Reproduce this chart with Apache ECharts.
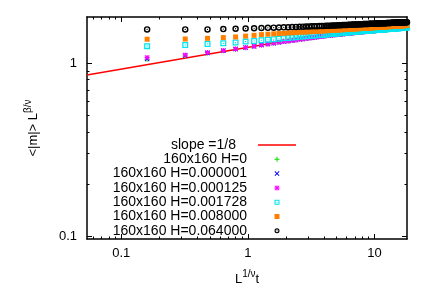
<!DOCTYPE html>
<html><head><meta charset="utf-8">
<script src="https://cdn.jsdelivr.net/npm/echarts@6/dist/echarts.min.js"></script>
<style>html,body{margin:0;padding:0;background:#fff}#c{width:428px;height:300px}</style>
</head><body><div id="c"></div>
<script>
const xs = [0.16,0.32,0.48,0.64,0.8,0.96,1.12,1.28,1.44,1.6,
1.76,1.92,2.08,2.24,2.4,2.56,2.72,2.88,3.04,3.2,
3.36,3.52,3.68,3.84,4,4.16,4.32,4.48,4.64,4.8,
4.96,5.12,5.28,5.44,5.6,5.76,5.92,6.08,6.24,6.4,
6.56,6.72,6.88,7.04,7.2,7.36,7.52,7.68,7.84,8,
8.16,8.32,8.48,8.64,8.8,8.96,9.12,9.28,9.44,9.6,
9.76,9.92,10.08,10.24,10.4,10.56,10.72,10.88,11.04,11.2,
11.36,11.52,11.68,11.84,12,12.16,12.32,12.48,12.64,12.8,
12.96,13.12,13.28,13.44,13.6,13.76,13.92,14.08,14.24,14.4,
14.56,14.72,14.88,15.04,15.2,15.36,15.52,15.68,15.84,16,
16.16,16.32,16.48,16.64,16.8,16.96,17.12,17.28,17.44,17.6,
17.76,17.92,18.08];
const yH0 = [1.050,1.100,1.140,1.174,1.201,1.224,1.246,1.268,1.285,1.300,
1.314,1.327,1.338,1.349,1.358,1.368,1.376,1.384,1.392,1.399,
1.406,1.412,1.419,1.425,1.431,1.435,1.439,1.444,1.448,1.452,
1.455,1.459,1.463,1.466,1.470,1.473,1.476,1.479,1.482,1.485,
1.488,1.491,1.493,1.496,1.499,1.501,1.504,1.506,1.508,1.511,
1.513,1.515,1.517,1.519,1.520,1.522,1.524,1.526,1.528,1.530,
1.531,1.533,1.535,1.536,1.538,1.540,1.541,1.543,1.544,1.545,
1.547,1.548,1.550,1.551,1.553,1.554,1.555,1.557,1.558,1.559,
1.560,1.562,1.563,1.564,1.565,1.567,1.568,1.569,1.570,1.571,
1.573,1.574,1.575,1.576,1.577,1.578,1.579,1.580,1.581,1.582,
1.583,1.584,1.585,1.586,1.587,1.588,1.589,1.590,1.591,1.592,
1.593,1.594,1.595];
const yH000001 = [1.055,1.103,1.142,1.175,1.202,1.225,1.246,1.268,1.285,1.300,
1.314,1.327,1.338,1.349,1.358,1.368,1.376,1.384,1.392,1.399,
1.406,1.412,1.419,1.425,1.431,1.435,1.439,1.444,1.448,1.452,
1.455,1.459,1.463,1.466,1.470,1.473,1.476,1.479,1.482,1.485,
1.488,1.491,1.493,1.496,1.499,1.501,1.504,1.506,1.508,1.511,
1.513,1.515,1.517,1.519,1.520,1.522,1.524,1.526,1.528,1.530,
1.531,1.533,1.535,1.536,1.538,1.540,1.541,1.543,1.544,1.545,
1.547,1.548,1.550,1.551,1.553,1.554,1.555,1.557,1.558,1.559,
1.560,1.562,1.563,1.564,1.565,1.567,1.568,1.569,1.570,1.571,
1.573,1.574,1.575,1.576,1.577,1.578,1.579,1.580,1.581,1.582,
1.583,1.584,1.585,1.586,1.587,1.588,1.589,1.590,1.591,1.592,
1.593,1.594,1.595];
const yH000125 = [1.074,1.111,1.147,1.178,1.204,1.226,1.247,1.269,1.286,1.301,
1.314,1.327,1.338,1.349,1.358,1.368,1.376,1.384,1.392,1.399,
1.406,1.412,1.419,1.425,1.431,1.435,1.439,1.444,1.448,1.452,
1.455,1.459,1.463,1.466,1.470,1.473,1.476,1.479,1.482,1.485,
1.488,1.491,1.493,1.496,1.499,1.501,1.504,1.506,1.508,1.511,
1.513,1.515,1.517,1.519,1.520,1.522,1.524,1.526,1.528,1.530,
1.531,1.533,1.535,1.536,1.538,1.540,1.541,1.543,1.544,1.545,
1.547,1.548,1.550,1.551,1.553,1.554,1.555,1.557,1.558,1.559,
1.560,1.562,1.563,1.564,1.565,1.567,1.568,1.569,1.570,1.571,
1.573,1.574,1.575,1.576,1.577,1.578,1.579,1.580,1.581,1.582,
1.583,1.584,1.585,1.586,1.587,1.588,1.589,1.590,1.591,1.592,
1.593,1.594,1.595];
const yH001728 = [1.250,1.269,1.286,1.297,1.310,1.327,1.338,1.350,1.360,1.370,
1.379,1.387,1.394,1.401,1.408,1.414,1.419,1.425,1.430,1.435,
1.439,1.443,1.448,1.452,1.455,1.459,1.463,1.467,1.470,1.474,
1.477,1.480,1.484,1.486,1.489,1.492,1.495,1.498,1.500,1.503,
1.506,1.508,1.510,1.513,1.515,1.517,1.519,1.522,1.524,1.526,
1.528,1.529,1.531,1.533,1.534,1.536,1.538,1.539,1.541,1.542,
1.544,1.545,1.547,1.548,1.550,1.551,1.552,1.554,1.555,1.556,
1.558,1.559,1.560,1.561,1.563,1.564,1.565,1.566,1.567,1.568,
1.570,1.571,1.572,1.573,1.574,1.575,1.576,1.577,1.578,1.579,
1.580,1.581,1.582,1.583,1.584,1.585,1.586,1.587,1.588,1.589,
1.590,1.591,1.592,1.592,1.593,1.594,1.595,1.596,1.597,1.597,
1.598,1.599,1.600];
const yH008000 = [1.370,1.374,1.386,1.400,1.412,1.428,1.443,1.456,1.464,1.471,
1.477,1.482,1.488,1.493,1.497,1.501,1.505,1.509,1.512,1.516,
1.519,1.522,1.525,1.528,1.530,1.533,1.536,1.539,1.541,1.544,
1.546,1.548,1.551,1.553,1.555,1.557,1.559,1.561,1.563,1.564,
1.566,1.568,1.570,1.571,1.573,1.575,1.576,1.578,1.579,1.581,
1.582,1.584,1.585,1.587,1.588,1.589,1.591,1.592,1.594,1.595,
1.596,1.597,1.599,1.600,1.601,1.603,1.604,1.605,1.606,1.607,
1.608,1.609,1.610,1.611,1.613,1.614,1.615,1.616,1.617,1.618,
1.619,1.620,1.621,1.621,1.622,1.623,1.624,1.625,1.626,1.627,
1.628,1.629,1.630,1.630,1.631,1.632,1.633,1.634,1.635,1.635,
1.636,1.637,1.638,1.638,1.639,1.640,1.641,1.641,1.642,1.643,
1.644,1.644,1.645];
const yH064000 = [1.560,1.560,1.560,1.567,1.574,1.579,1.584,1.589,1.593,1.597,
1.600,1.604,1.607,1.610,1.613,1.616,1.618,1.621,1.623,1.626,
1.628,1.630,1.632,1.633,1.634,1.636,1.638,1.640,1.642,1.644,
1.646,1.647,1.649,1.651,1.652,1.654,1.656,1.657,1.659,1.660,
1.661,1.663,1.664,1.665,1.666,1.668,1.669,1.670,1.671,1.672,
1.674,1.675,1.676,1.677,1.678,1.679,1.680,1.681,1.682,1.683,
1.683,1.684,1.685,1.686,1.687,1.688,1.689,1.690,1.690,1.691,
1.692,1.693,1.693,1.694,1.695,1.696,1.696,1.697,1.698,1.699,
1.699,1.700,1.701,1.701,1.702,1.703,1.703,1.704,1.705,1.705,
1.706,1.706,1.707,1.708,1.708,1.709,1.709,1.710,1.711,1.711,
1.712,1.712,1.713,1.713,1.714,1.714,1.715,1.715,1.716,1.716,
1.717,1.717,1.718];
const slopeX = [0.0536, 18.08];
const slopeY = [0.853, 1.766];
const seriesNames = ['slope =1/8','160x160 H=0','160x160 H=0.000001','160x160 H=0.000125','160x160 H=0.001728','160x160 H=0.008000','160x160 H=0.064000'];
const xTicks = [0.1, 1, 10];
const xMinorTicks = [0.06,0.07,0.08,0.09,0.2,0.3,0.4,0.5,0.6,0.7,0.8,0.9,2,3,4,5,6,7,8,9];
const yTicks = [0.1, 1];
const yMinorTicks = [0.2,0.3,0.4,0.5,0.6,0.7,0.8,0.9];
const X_MIN = 0.0536, X_MAX = 18.08, Y_MIN = 0.0966, Y_MAX = 1.84;
const FONT = 'Liberation Sans';
const sym = {
  line: 'path://M0,0H38V1.5H0Z',
  plus: 'path://M4,0H6V4H10V6H6V10H4V6H0V4H4Z',
  cross: 'path://M0,1.4L1.4,0L5,3.6L8.6,0L10,1.4L6.4,5L10,8.6L8.6,10L5,6.4L1.4,10L0,8.6L3.6,5Z',
  star: 'path://M4,0H6V4H10V6H6V10H4V6H0V4H4Z M0,1.4L1.4,0L5,3.6L8.6,0L10,1.4L6.4,5L10,8.6L8.6,10L5,6.4L1.4,10L0,8.6L3.6,5Z',
  box: 'path://M0,0H10V10H0Z M2.1,2.1V7.9H7.9V2.1Z M4.1,4.1H5.9V5.9H4.1Z',
  square: 'path://M0,0H10V10H0Z',
  circ: 'path://M5,0A5,5 0 1 1 5,10A5,5 0 1 1 5,0Z M5,2.2A2.8,2.8 0 1 0 5,7.8A2.8,2.8 0 1 0 5,2.2Z M5,4A1,1 0 1 1 5,6A1,1 0 1 1 5,4Z'
};
function pairs(xv, yv) { return xv.map((x, i) => [x, yv[i]]); }
const rich = {
  b: {fontSize: 13, fontFamily: FONT, color: '#000', verticalAlign: 'bottom'},
  sup: {fontSize: 10, fontFamily: FONT, color: '#000', verticalAlign: 'top', padding: [0,0,7,0]}
};
function xAxisCfg(grid, pos, major) {
  return {
    type: 'log', logBase: 10, gridIndex: grid, position: pos, min: X_MIN, max: X_MAX,
    axisLine: {show: major, lineStyle: {color: '#000', width: 1.5}},
    axisTick: {show: true, inside: true, length: major ? 5 : 2.5, customValues: major ? xTicks : xMinorTicks, lineStyle: {color: '#000', width: 1}},
    axisLabel: {show: major && pos === 'bottom', customValues: xTicks, color: '#000', fontSize: 13, fontFamily: FONT, margin: 8},
    splitLine: {show: false}, minorTick: {show: false}, minorSplitLine: {show: false}
  };
}
function yAxisCfg(grid, pos, major) {
  return {
    type: 'log', logBase: 10, gridIndex: grid, position: pos, min: Y_MIN, max: Y_MAX,
    axisLine: {show: major, lineStyle: {color: '#000', width: 1.5}},
    axisTick: {show: true, inside: true, length: major ? 5 : 2.5, customValues: major ? yTicks : yMinorTicks, lineStyle: {color: '#000', width: 1}},
    axisLabel: {show: major && pos === 'left', customValues: yTicks, color: '#000', fontSize: 13, fontFamily: FONT, margin: 10},
    splitLine: {show: false}, minorTick: {show: false}, minorSplitLine: {show: false}
  };
}
const xa0 = xAxisCfg(0, 'bottom', true);
xa0.name = '{b|L}{sup|1/ν}{b|t}'; xa0.nameLocation = 'middle'; xa0.nameGap = 30; xa0.nameTextStyle = {rich: rich};
const ya0 = yAxisCfg(0, 'left', true);
ya0.name = '{b|<|m|> L}{sup|β/ν}'; ya0.nameLocation = 'middle'; ya0.nameRotate = 90; ya0.nameGap = 47; ya0.nameTextStyle = {rich: rich};
const gridRect = {left: 87, top: 17, width: 320, height: 222, show: false, containLabel: false, outerBoundsMode: 'none'};
function scatter(name, yv, symbol, size, color) {
  return {name: name, type: 'scatter', xAxisIndex: 0, yAxisIndex: 0, z: 3, data: pairs(xs, yv), symbol: symbol, symbolSize: size,
    itemStyle: {color: color, opacity: 1}, silent: true, emphasis: {disabled: true}};
}
const legendIcons = [sym.line, sym.plus, sym.cross, sym.star, sym.box, sym.square, sym.circ];
const option = {
  animation: false, backgroundColor: '#fff', textStyle: {fontFamily: FONT},
  grid: [Object.assign({}, gridRect), Object.assign({}, gridRect)],
  xAxis: [xa0, xAxisCfg(0, 'top', true), xAxisCfg(1, 'bottom', false), xAxisCfg(1, 'top', false)],
  yAxis: [ya0, yAxisCfg(0, 'right', true), yAxisCfg(1, 'left', false), yAxisCfg(1, 'right', false)],
  legend: {
    orient: 'vertical', align: 'right', right: 132, top: 138, padding: 0,
    itemGap: 0.3, itemWidth: 38, itemHeight: 5, selectedMode: false, symbolKeepAspect: true,
    textStyle: {fontSize: 14, fontFamily: FONT, color: '#000', lineHeight: 14, padding: [0, 6, 0, 0]},
    data: seriesNames.map((n, i) => i === 0 ? {name: n, icon: legendIcons[i], textStyle: {padding: [0, 17, 0, 0]}} : {name: n, icon: legendIcons[i]})
  },
  series: [
    {name: seriesNames[0], type: 'line', xAxisIndex: 0, yAxisIndex: 0, z: 1, data: pairs(slopeX, slopeY),
     symbol: 'none', lineStyle: {color: '#ff0000', width: 1.5}, itemStyle: {color: '#ff0000'}, silent: true},
    scatter(seriesNames[1], yH0, sym.plus, 5, '#00dd00'),
    scatter(seriesNames[2], yH000001, sym.cross, 5, '#0000ff'),
    scatter(seriesNames[3], yH000125, sym.star, 5, '#ff00ff'),
    scatter(seriesNames[4], yH001728, sym.box, 6, '#00e5ee'),
    scatter(seriesNames[5], yH008000, sym.square, 5, '#ff8000'),
    scatter(seriesNames[6], yH064000, sym.circ, 6.5, '#000000')
  ]
};
const chart = echarts.init(document.getElementById('c'), null, {renderer: 'canvas'});
chart.setOption(option);
</script>
</body></html>
